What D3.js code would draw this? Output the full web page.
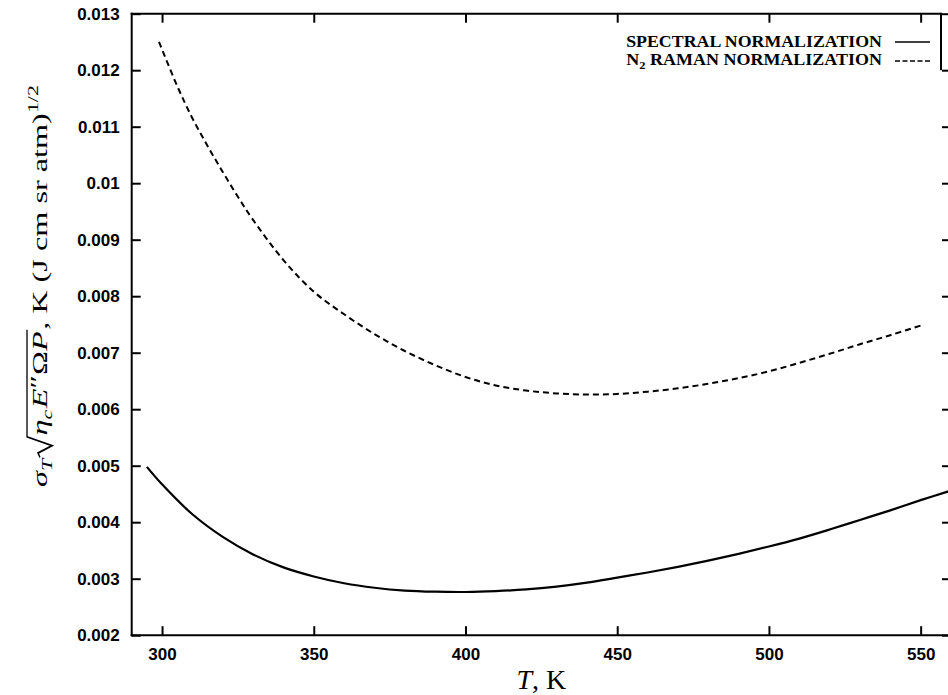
<!DOCTYPE html>
<html>
<head>
<meta charset="utf-8">
<script src="https://cdn.jsdelivr.net/npm/d3@7/dist/d3.min.js"></script>
<style>
  html, body { margin: 0; padding: 0; background: #fff; }
  svg { display: block; }
</style>
</head>
<body>
<svg id="chart" width="948" height="695"></svg>
<script>
// Temperature (K) and noise-equivalent figure for the two normalization schemes
const spectralT = [295, 300, 310, 320, 330, 340, 350, 360, 370, 380, 390, 400, 410, 420, 430, 440, 450, 460, 470, 480, 490, 500, 510, 520, 530, 540, 550, 560];
const spectralV = [0.00498, 0.00467, 0.00414, 0.00374, 0.00343, 0.00320, 0.00304, 0.00292, 0.00284, 0.00279, 0.00277, 0.002765, 0.00278, 0.00281, 0.00286, 0.00293, 0.00302, 0.00311, 0.00321, 0.00332, 0.00344, 0.00357, 0.00371, 0.00387, 0.00404, 0.00421, 0.00439, 0.00456];

const ramanT = [299, 305, 310, 315, 320, 325, 330, 340, 350, 360, 370, 380, 390, 400, 410, 420, 430, 440, 450, 460, 470, 480, 490, 500, 510, 520, 530, 540, 550];
const ramanV = [0.01250, 0.01172, 0.01115, 0.01066, 0.01020, 0.00976, 0.00935, 0.00864, 0.00808, 0.00768, 0.00733, 0.00703, 0.00678, 0.00657, 0.00642, 0.00633, 0.00628, 0.00626, 0.00627, 0.00631, 0.00637, 0.00645, 0.00655, 0.00667, 0.00682, 0.00698, 0.00715, 0.00731, 0.00748];

const xTicks = [300, 350, 400, 450, 500, 550];
const yTicks = [0.002, 0.003, 0.004, 0.005, 0.006, 0.007, 0.008, 0.009, 0.01, 0.011, 0.012, 0.013];
const yTickLabels = ["0.002", "0.003", "0.004", "0.005", "0.006", "0.007", "0.008", "0.009", "0.01", "0.011", "0.012", "0.013"];

const legendLabels = ["SPECTRAL NORMALIZATION", "RAMAN NORMALIZATION"];

const svg = d3.select("#chart");
const plotL = 131.7, plotR = 951, plotT = 13.7, plotB = 635.2;

const x = d3.scaleLinear().domain([290, 560]).range([plotL, plotR]);
const y = d3.scaleLinear().domain([0.002, 0.013]).range([plotB, plotT]);

const tickFont = "'Liberation Sans', Arial, sans-serif";
const serif = "'Liberation Serif', 'Times New Roman', serif";

// Axes with inward ticks on all four sides
const gx = svg.append("g").attr("transform", `translate(0,${plotB})`)
  .call(d3.axisBottom(x).tickValues(xTicks).tickSizeInner(-9).tickSizeOuter(0).tickPadding(13).tickFormat(d3.format("d")));
const gy = svg.append("g").attr("transform", `translate(${plotL},0)`)
  .call(d3.axisLeft(y).tickValues(yTicks).tickSizeInner(-9).tickSizeOuter(0).tickPadding(12)
    .tickFormat((d, i) => yTickLabels[i]));
const gt = svg.append("g").attr("transform", `translate(0,${plotT})`)
  .call(d3.axisTop(x).tickValues(xTicks).tickSizeInner(-9).tickSizeOuter(0).tickFormat(""));
const gr = svg.append("g").attr("transform", `translate(${plotR},0)`)
  .call(d3.axisRight(y).tickValues(yTicks).tickSizeInner(-9).tickSizeOuter(0).tickFormat(""));

[gx, gy, gt, gr].forEach(g => {
  g.select(".domain").remove();
  g.selectAll(".tick line").attr("stroke", "#000").attr("stroke-width", 2);
  g.selectAll(".tick text").attr("fill", "#000")
    .style("font-family", tickFont).style("font-weight", "bold").style("font-size", "17px");
});

// Frame
const frame = svg.append("g").attr("stroke", "#000").attr("stroke-width", 2).attr("fill", "none");
frame.append("line").attr("x1", plotL).attr("x2", plotL).attr("y1", plotT - 1).attr("y2", plotB + 1);
frame.append("line").attr("x1", plotL - 1).attr("x2", plotR).attr("y1", plotB).attr("y2", plotB);
frame.append("line").attr("x1", plotL - 1).attr("x2", 941).attr("y1", plotT).attr("y2", plotT);
frame.append("line").attr("x1", 941).attr("x2", 941).attr("y1", plotT - 1).attr("y2", y(0.012));

// Curves
const line = d3.line().x(d => x(d[0])).y(d => y(d[1])).curve(d3.curveCatmullRom.alpha(0.5));
svg.append("path")
  .datum(spectralT.map((t, i) => [t, spectralV[i]]))
  .attr("d", line).attr("fill", "none").attr("stroke", "#000").attr("stroke-width", 2.2);
svg.append("path")
  .datum(ramanT.map((t, i) => [t, ramanV[i]]))
  .attr("d", line).attr("fill", "none").attr("stroke", "#000").attr("stroke-width", 2)
  .attr("stroke-dasharray", "6,4");

// Legend
const legendRight = 882, legendWidth = 256;
function legendRow(baseline, build) {
  const g = svg.append("g");
  const t = g.append("text").attr("text-anchor", "end").attr("x", 0).attr("y", 0)
    .style("font-family", serif).style("font-weight", "bold").style("font-size", "16px").attr("fill", "#000");
  build(t);
  const w = t.node().getComputedTextLength();
  g.attr("transform", `translate(${legendRight},${baseline}) scale(${legendWidth / w},1)`);
}
legendRow(47, t => t.text(legendLabels[0]));
legendRow(65, t => {
  t.append("tspan").text("N");
  t.append("tspan").attr("dy", 4).style("font-size", "11px").text("2");
  t.append("tspan").attr("dy", -4).text(" " + legendLabels[1]);
});
svg.append("line").attr("x1", 895).attr("x2", 930).attr("y1", 42).attr("y2", 42)
  .attr("stroke", "#000").attr("stroke-width", 1.6);
svg.append("line").attr("x1", 895).attr("x2", 930).attr("y1", 61).attr("y2", 61)
  .attr("stroke", "#000").attr("stroke-width", 1.6).attr("stroke-dasharray", "5,2.5");

// X-axis title
const xt = svg.append("text").attr("x", (plotL + plotR) / 2).attr("y", 689).attr("text-anchor", "middle")
  .style("font-family", serif).style("font-size", "28px").attr("fill", "#000");
xt.append("tspan").style("font-style", "italic").text("T");
xt.append("tspan").text(", K");

// Y-axis title: σ_T √(η_c E″ Ω P), K (J cm sr atm)^1/2, built piece by piece
const yl = svg.append("g");
const inner = yl.append("g");
let cx = 0;
function piece(str, opts = {}) {
  const t = inner.append("text").attr("x", cx).attr("y", opts.dy || 0)
    .style("font-family", serif).style("font-size", (opts.size || 22) + "px")
    .style("font-style", opts.italic ? "italic" : "normal").attr("fill", "#000").text(str);
  const w = t.node().getComputedTextLength();
  cx += w + (opts.gap || 0);
  return t;
}
piece("σ", { italic: true });
piece("T", { italic: true, size: 15, dy: 5, gap: 1 });
const radStart = cx;
cx += 15;
piece("η", { italic: true });
piece("c", { italic: true, size: 15, dy: 5, gap: 1 });
piece("E", { italic: true });
piece("″", { dy: -2 });
piece("Ω");
piece("P", { italic: true, gap: 1 });
const radEnd = cx;
inner.append("path")
  .attr("d", `M${radStart},-7 L${radStart + 3},-9 L${radStart + 8},5 L${radStart + 14},-20 L${radEnd},-20`)
  .attr("fill", "none").attr("stroke", "#000").attr("stroke-width", 1.3).attr("stroke-linejoin", "miter");
piece(", K (J cm sr atm)");
piece("1/2", { size: 15, dy: -9 });
const totalW = cx;
const span = 402;
yl.attr("transform", `translate(47,286) rotate(-90) scale(${span / totalW},1) translate(${-totalW / 2},0)`);
</script>
</body>
</html>
